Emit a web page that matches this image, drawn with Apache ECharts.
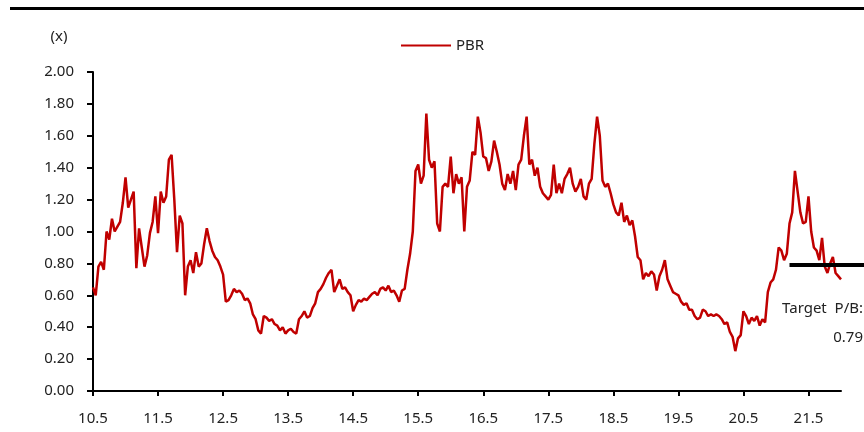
<!DOCTYPE html>
<html>
<head>
<meta charset="utf-8">
<script src="https://cdn.jsdelivr.net/npm/echarts@6/dist/echarts.min.js"></script>
<style>
  html, body { margin: 0; padding: 0; background: #fff; }
  #chart { width: 864px; height: 432px; }
</style>
</head>
<body>
<div id="chart"></div>
<script>
// Price-to-book ratio, sampled twice a month from May 2010
const STEP_MONTHS = 0.5;
const pbr = [
  0.65, 0.60, 0.78, 0.81, 0.76, 1.00, 0.95, 1.08, 1.00, 1.03,
  1.06, 1.18, 1.34, 1.15, 1.20, 1.25, 0.77, 1.02, 0.90, 0.78,
  0.85, 0.99, 1.06, 1.22, 0.99, 1.25, 1.18, 1.22, 1.45, 1.48,
  1.20, 0.87, 1.10, 1.05, 0.60, 0.78, 0.82, 0.74, 0.87, 0.78,
  0.80, 0.92, 1.02, 0.94, 0.88, 0.84, 0.82, 0.78, 0.73, 0.56,
  0.57, 0.60, 0.64, 0.62, 0.63, 0.61, 0.57, 0.58, 0.55, 0.48,
  0.45, 0.38, 0.36, 0.47, 0.46, 0.44, 0.45, 0.42, 0.41, 0.38,
  0.40, 0.36, 0.38, 0.39, 0.37, 0.36, 0.45, 0.47, 0.50, 0.46,
  0.47, 0.52, 0.55, 0.62, 0.64, 0.67, 0.71, 0.74, 0.76, 0.62,
  0.66, 0.70, 0.64, 0.65, 0.62, 0.60, 0.50, 0.54, 0.57, 0.56,
  0.58, 0.57, 0.59, 0.61, 0.62, 0.60, 0.64, 0.65, 0.63, 0.66,
  0.62, 0.63, 0.60, 0.56, 0.63, 0.64, 0.76, 0.86, 1.00, 1.38,
  1.42, 1.30, 1.35, 1.74, 1.45, 1.40, 1.44, 1.05, 1.00, 1.28,
  1.30, 1.28, 1.47, 1.24, 1.36, 1.30, 1.34, 1.00, 1.28, 1.32,
  1.50, 1.48, 1.72, 1.62, 1.47, 1.46, 1.38, 1.44, 1.57, 1.50,
  1.42, 1.30, 1.26, 1.36, 1.30, 1.38, 1.26, 1.42, 1.45, 1.60,
  1.72, 1.42, 1.45, 1.35, 1.40, 1.28, 1.24, 1.22, 1.20, 1.23,
  1.42, 1.24, 1.30, 1.24, 1.33, 1.36, 1.40, 1.30, 1.25, 1.28,
  1.33, 1.22, 1.20, 1.30, 1.33, 1.55, 1.72, 1.60, 1.32, 1.28,
  1.30, 1.24, 1.17, 1.12, 1.10, 1.18, 1.06, 1.10, 1.04, 1.07,
  0.97, 0.84, 0.82, 0.70, 0.74, 0.72, 0.75, 0.73, 0.63, 0.72,
  0.76, 0.82, 0.70, 0.66, 0.62, 0.61, 0.60, 0.56, 0.54, 0.55,
  0.51, 0.51, 0.47, 0.45, 0.46, 0.51, 0.50, 0.47, 0.48, 0.47,
  0.48, 0.47, 0.45, 0.42, 0.43, 0.37, 0.34, 0.25, 0.33, 0.35,
  0.50, 0.47, 0.42, 0.46, 0.44, 0.47, 0.41, 0.45, 0.43, 0.62,
  0.68, 0.70, 0.76, 0.90, 0.88, 0.82, 0.86, 1.05, 1.12, 1.38,
  1.25, 1.12, 1.05, 1.06, 1.22, 1.00, 0.90, 0.88, 0.82, 0.96,
  0.78, 0.74, 0.80, 0.84, 0.74, 0.72, 0.70
];

// Year.month tick labels, one per 12 months
const xTickLabels = ['10.5', '11.5', '12.5', '13.5', '14.5', '15.5', '16.5', '17.5', '18.5', '19.5', '20.5', '21.5'];
const xTickMonths = xTickLabels.map((_, i) => i * 12);
const X_MAX_MONTHS = 138;

// Target multiple and the month where the target marker starts
const TARGET_PB = 0.79;
const TARGET_FROM_MONTH = 128.5;

const FONT = '"Noto Sans", "Open Sans", sans-serif';
const TEXT_COLOR = '#222';

const chart = echarts.init(document.getElementById('chart'), null, { renderer: 'canvas' });

chart.setOption({
  animation: false,
  backgroundColor: '#fff',
  textStyle: { fontFamily: FONT },
  grid: { left: 93, right: 23, top: 72, bottom: 41, containLabel: false },
  legend: {
    left: 396,
    top: 33,
    icon: 'rect',
    itemWidth: 50,
    itemHeight: 2,
    textStyle: { fontFamily: FONT, fontSize: 15, color: TEXT_COLOR },
    data: ['PBR']
  },
  xAxis: {
    type: 'value',
    min: 0,
    max: X_MAX_MONTHS,
    splitLine: { show: false },
    axisLine: { lineStyle: { color: '#000', width: 2 } },
    axisTick: { show: true, length: 5, lineStyle: { color: '#000', width: 2 }, customValues: xTickMonths },
    axisLabel: {
      customValues: xTickMonths,
      margin: 20,
      fontSize: 15,
      color: TEXT_COLOR,
      fontFamily: FONT,
      formatter: v => xTickLabels[Math.round(v / 12)] || ''
    }
  },
  yAxis: {
    type: 'value',
    min: 0,
    max: 2,
    interval: 0.2,
    splitLine: { show: false },
    axisLine: { show: true, lineStyle: { color: '#000', width: 2 } },
    axisTick: { show: true, length: 6, lineStyle: { color: '#000', width: 2 } },
    axisLabel: {
      margin: 19,
      fontSize: 15,
      color: TEXT_COLOR,
      fontFamily: FONT,
      formatter: v => v.toFixed(2)
    }
  },
  graphic: [
    { type: 'rect', shape: { x: 10, y: 7, width: 854, height: 3 }, style: { fill: '#000' } },
    { type: 'text', x: 59, y: 37, style: { text: '(x)', fontFamily: FONT, fontSize: 15, fill: TEXT_COLOR, align: 'center', verticalAlign: 'middle' } },
    { type: 'text', x: 863, y: 309, style: { text: 'Target  P/B:', fontFamily: FONT, fontSize: 15, fill: TEXT_COLOR, align: 'right', verticalAlign: 'middle' } },
    { type: 'text', x: 863, y: 338, style: { text: TARGET_PB.toFixed(2), fontFamily: FONT, fontSize: 15, fill: TEXT_COLOR, align: 'right', verticalAlign: 'middle' } }
  ],
  series: [{
    name: 'PBR',
    type: 'line',
    symbol: 'none',
    clip: false,
    lineStyle: { color: '#C00000', width: 2.5 },
    itemStyle: { color: '#C00000' },
    data: pbr.map((v, i) => [i * STEP_MONTHS, v]),
    markLine: {
      silent: true,
      symbol: 'none',
      label: { show: false },
      lineStyle: { color: '#000', width: 4, type: 'solid' },
      data: [[
        { coord: [TARGET_FROM_MONTH, TARGET_PB] },
        { coord: [X_MAX_MONTHS, TARGET_PB], x: 864 }
      ]]
    }
  }]
});
</script>
</body>
</html>
